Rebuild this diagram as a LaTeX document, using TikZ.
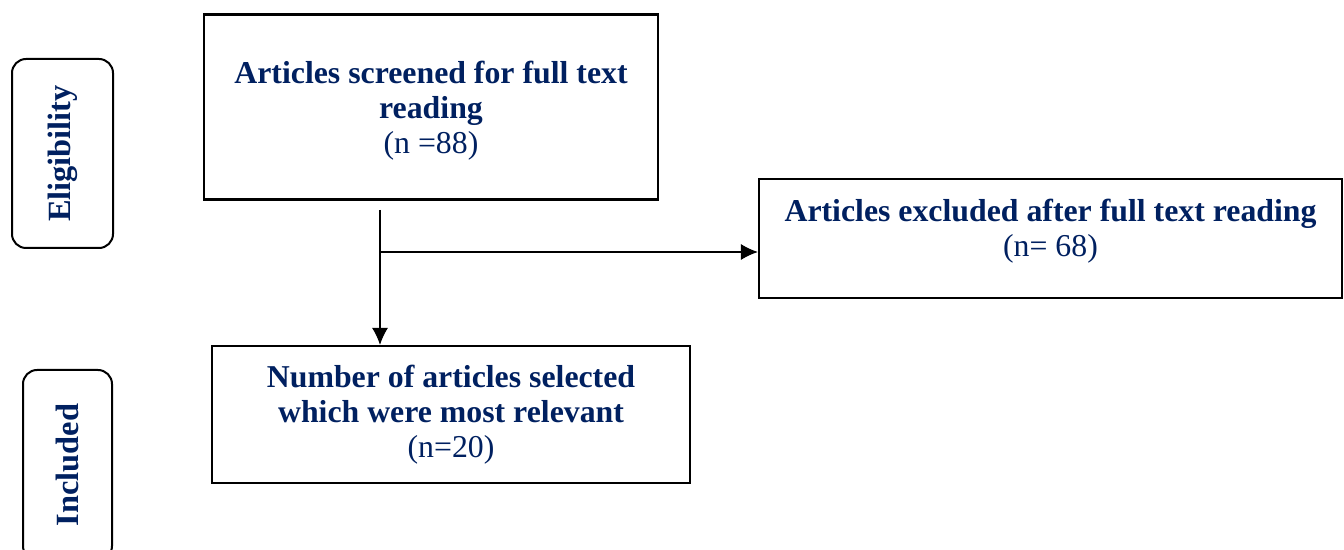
\documentclass[tikz,border=0pt]{standalone}
\usepackage{fontspec}
\setmainfont{Liberation Serif}
\usepackage{xcolor}
\usepackage{tikz}
\usetikzlibrary{shapes,arrows.meta,positioning}
\definecolor{navy}{HTML}{002060}

\begin{document}
\begin{tikzpicture}[x=0.5pt, y=-0.5pt]
    % Define styles
    \tikzstyle{stage} = [rectangle, draw, rounded corners=7pt, line width=1pt, rotate=90, text=navy, font=\fontsize{16.2}{18}\selectfont\bfseries]
    \tikzstyle{box} = [rectangle, draw, line width=1.1pt, align=center, text=navy, font=\fontsize{15.9}{17.5}\selectfont]
    \tikzstyle{arrow} = [line width=0.6pt, -{Latex[length=8.5pt, width=8pt]}]

    \useasboundingbox (0,0) rectangle (1344,550);

    % Stage labels
    \node [stage, minimum width=94.5pt, minimum height=50.5pt] (elig) at (62.5,153.5) {Eligibility};
    \node [stage, minimum width=95pt, minimum height=44.5pt] (incl) at (67.5,465) {Included};

    % Boxes
    \node [box, minimum width=227pt, minimum height=92.5pt, text depth=0pt] (screened) at (431,107)
        {\textbf{Articles screened for full text}\\ \textbf{reading}\\(n =88)};
    \node [box, minimum width=291.5pt, minimum height=59.5pt, text depth=11pt] (excluded) at (1050.5,238.5)
        {\textbf{Articles excluded after full text reading}\\(n= 68)};
    \node [box, minimum width=239pt, minimum height=68.5pt] (selected) at (451,414.5)
        {\textbf{Number of articles selected}\\ \textbf{which were most relevant}\\(n=20)};

    % Arrows
    \coordinate (start) at (380,210);
    \coordinate (split) at (380,252);
    \draw [arrow] (start) -- (start |- selected.north);
    \draw [arrow] (split) -- (split -| excluded.west);
\end{tikzpicture}
\end{document}
